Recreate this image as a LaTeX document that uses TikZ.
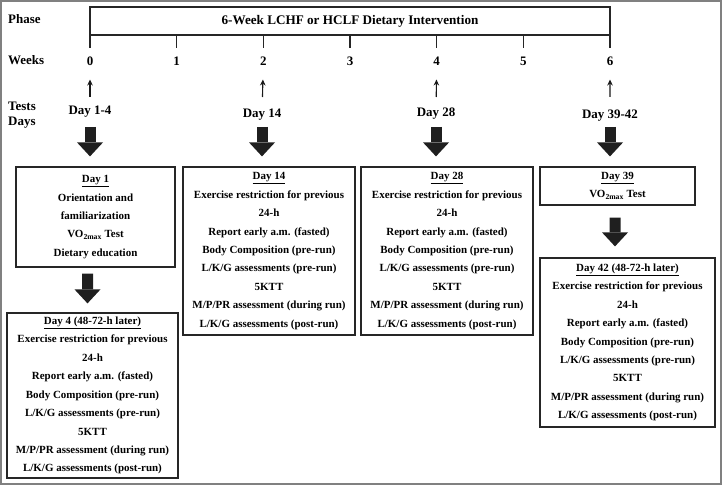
\documentclass[tikz,border=0pt]{standalone}
\usepackage{fontspec}
\setmainfont{Liberation Serif}
\usetikzlibrary{arrows.meta}
\begin{document}
\begin{tikzpicture}[x=1bp,y=-1bp,
  lbl/.style={font=\fontsize{13}{15}\selectfont\bfseries, inner sep=0pt, text height=8.8bp, text depth=2.8bp},
  sidelbl/.style={lbl, anchor=west},
  box/.style={draw=black!85, line width=1.2bp, align=center, inner sep=0pt,
    font=\fontsize{11}{18.5}\selectfont\bfseries},
  tick/.style={line width=1.5bp, black!85},
  thinarrow/.style={line width=1.1bp, black!90, -{Stealth[length=6bp,width=5.5bp]}},
  bigarrow/.style={line width=11bp, black!88, -{Triangle[length=14bp,width=26bp,line width=0pt]}},
]
\useasboundingbox (0,0) rectangle (722,485);
\draw[gray, line width=2bp] (1,1) rectangle (721,484);

% phase bar
\node[draw=black!85, line width=1.2bp, minimum width=520bp, minimum height=28bp, inner sep=0pt,
  font=\fontsize{13.2}{15}\selectfont\bfseries] (bar) at (350,21) {6-Week LCHF or HCLF Dietary Intervention};

% left labels
\node[sidelbl] (phase) at (8,21) {Phase};
\node[sidelbl] (weeks) at (8,62) {Weeks};
\node[sidelbl] (tests) at (8,108) {Tests};
\node[sidelbl] (days) at (8,123) {Days};

% ticks and week numbers
\foreach \i in {0,...,6} {
  \draw[tick] (90+86.667*\i,35) -- (90+86.667*\i,48);
  \node[lbl] (w\i) at (90+86.667*\i,63) {\i};
}

% test day labels
\node[lbl] (d0) at (90,112) {Day 1-4};
\node[lbl] (d2) at (262,115) {Day 14};
\node[lbl] (d4) at (436,114) {Day 28};
\node[lbl] (d6) at (610,116) {Day 39-42};

% thin arrows up to weeks
\draw[thinarrow, shorten <=9bp, shorten >=10.5bp] (d0) -- (w0);
\draw[thinarrow, shorten <=12bp, shorten >=10.5bp] (d2) -- (w2);
\draw[thinarrow, shorten <=11bp, shorten >=10.5bp] (d4) -- (w4);
\draw[thinarrow, shorten <=13bp, shorten >=10.5bp] (d6) -- (w6);

% boxes
\node[box, minimum width=159bp, minimum height=100bp] (day1) at (95.5,217)
  {\underline{Day 1}\\Orientation and\\familiarization\\VO\textsubscript{2max} Test\\Dietary education};
\node[box, minimum width=172bp, minimum height=168bp] (day14) at (269,251)
  {\underline{Day 14}\\Exercise restriction for previous\\24-h\\Report early a.m. (fasted)\\Body Composition (pre-run)\\L/K/G assessments (pre-run)\\5KTT\\M/P/PR assessment (during run)\\L/K/G assessments (post-run)};
\node[box, minimum width=172bp, minimum height=168bp] (day28) at (447,251)
  {\underline{Day 28}\\Exercise restriction for previous\\24-h\\Report early a.m. (fasted)\\Body Composition (pre-run)\\L/K/G assessments (pre-run)\\5KTT\\M/P/PR assessment (during run)\\L/K/G assessments (post-run)};
\node[box, minimum width=155bp, minimum height=38bp] (day39) at (617.5,186)
  {\underline{Day 39}\\VO\textsubscript{2max} Test};
\node[box, minimum width=175bp, minimum height=169bp] (day42) at (627.5,342.5)
  {\underline{Day 42 (48-72-h later)}\\Exercise restriction for previous\\24-h\\Report early a.m. (fasted)\\Body Composition (pre-run)\\L/K/G assessments (pre-run)\\5KTT\\M/P/PR assessment (during run)\\L/K/G assessments (post-run)};
\node[box, minimum width=171bp, minimum height=165bp] (day4) at (92.5,395.5)
  {\underline{Day 4 (48-72-h later)}\\Exercise restriction for previous\\24-h\\Report early a.m. (fasted)\\Body Composition (pre-run)\\L/K/G assessments (pre-run)\\5KTT\\M/P/PR assessment (during run)\\L/K/G assessments (post-run)};

% big arrows
\draw[bigarrow, shorten <=9bp, shorten >=10bp] (d0) -- (d0 |- day1.north);
\draw[bigarrow, shorten <=6bp, shorten >=10bp] (d2) -- (d2 |- day14.north);
\draw[bigarrow, shorten <=7bp, shorten >=10bp] (d4) -- (d4 |- day28.north);
\draw[bigarrow, shorten <=5bp, shorten >=10bp] (d6) -- (d6 |- day39.north);
\draw[bigarrow, shorten <=6bp, shorten >=9bp] ([xshift=-8bp]day1.south) -- ([xshift=-5bp]day4.north);
\draw[bigarrow, shorten <=12bp, shorten >=11bp] ([xshift=-2.5bp]day39.south) -- ([xshift=-12.5bp]day42.north);
\end{tikzpicture}
\end{document}
